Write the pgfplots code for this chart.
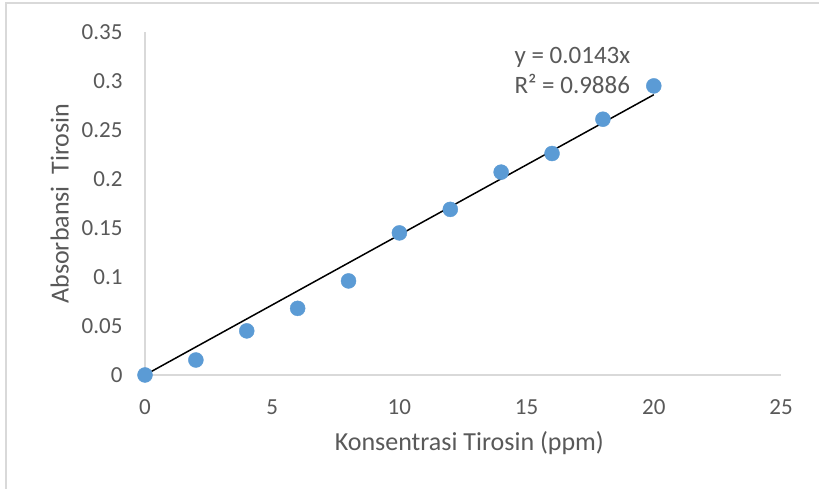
\documentclass[border=0pt]{standalone}
\usepackage{pgfplots}
\pgfplotsset{compat=1.18}
\usepackage{fontspec}
\setmainfont{Carlito}
\definecolor{txt}{HTML}{595959}
\definecolor{ax}{HTML}{D9D9D9}
\definecolor{pt}{HTML}{5B9BD5}

\begin{document}
\begin{tikzpicture}[x=1pt,y=1pt]
\useasboundingbox (0,0) rectangle (819,489);
\fill[white] (0,0) rectangle (819,489);
\draw[ax,line width=1.2pt] (6,0) -- (6,486) -- (819,486);
\begin{axis}[
  at={(145pt,114pt)}, anchor=south west,
  scale only axis, width=636pt, height=343pt,
  xmin=0, xmax=25, ymin=0, ymax=0.35,
  xtick={0,5,...,25}, ytick={0,0.05,...,0.35},
  yticklabels={0,0.05,0.1,0.15,0.2,0.25,0.3,0.35},
  axis lines*=left, axis line style={ax,line width=1.5pt,-},
  major tick length=0pt,
  tick label style={font=\fontsize{23}{27}\selectfont, text=txt},
  /pgf/number format/assume math mode=true,
  xticklabel style={yshift=-21pt},
  yticklabel style={xshift=-19pt},
  xlabel={Konsentrasi Tirosin (ppm)}, ylabel={Absorbansi\ \ Tirosin},
  label style={font=\fontsize{26}{30}\selectfont, text=txt},
  xlabel style={at={(axis description cs:0.51,-0.198)}, anchor=center},
  ylabel style={at={(axis description cs:-0.134,0.5)}, anchor=center, rotate=0},
  clip=false,
]
\addplot[black, line width=1.5pt] coordinates {(0,0)(20,0.286)};
\addplot[only marks, mark=*, mark size=7.5pt, mark options={fill=pt, draw=pt}] coordinates {
(0,0.000)(2,0.0153)(4,0.0450)(6,0.0680)(8,0.0960)(10,0.1450)(12,0.1690)(14,0.2070)(16,0.2260)(18,0.2610)(20,0.2950)};
\node[align=left, text=txt, font=\fontsize{25}{30}\selectfont] at (axis cs:16.8,0.311) {y = 0.0143x\\R² = 0.9886};
\end{axis}
\end{tikzpicture}
\end{document}
